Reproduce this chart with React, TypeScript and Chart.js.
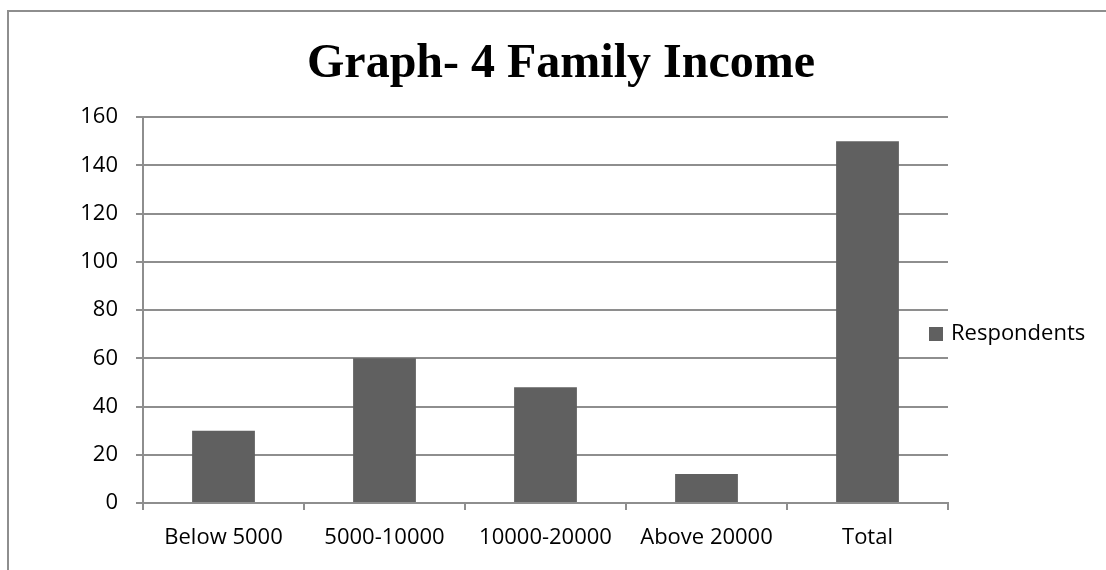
import { useEffect, useRef } from "react";
import { Chart, registerables } from "chart.js";

Chart.register(...registerables);

const titleText = "Graph- 4 Family Income";
const categories = ["Below 5000", "5000-10000", "10000-20000", "Above 20000", "Total"];
const seriesLabel = "Respondents";
const respondents = [30, 60, 48, 12, 150];
const yMin = 0;
const yMax = 160;
const yStep = 20;

const GRID = "#8e8e8e";
const BAR = "#606060";
const FONT = "'Open Sans', 'Noto Sans', sans-serif";

export default function App() {
  const ref = useRef<HTMLCanvasElement>(null);

  useEffect(() => {
    const canvas = ref.current;
    if (!canvas) return;

    const framePlugin = {
      id: "frame",
      beforeDraw(chart: any) {
        const c = chart.ctx;
        c.save();
        c.fillStyle = "#ffffff";
        c.fillRect(0, 0, chart.width, chart.height);
        c.strokeStyle = GRID;
        c.lineWidth = 2;
        c.strokeRect(8, 11, 1400, 900);
        c.restore();
      },
    };

    const titlePlugin = {
      id: "customTitle",
      afterDraw(chart: any) {
        const c = chart.ctx;
        c.save();
        c.font = "bold 48px 'Liberation Serif', 'Times New Roman', serif";
        c.fillStyle = "#000";
        c.textAlign = "center";
        c.textBaseline = "alphabetic";
        c.fillText(titleText, 561, 77);
        c.restore();
      },
    };

    const legendPlugin = {
      id: "customLegend",
      afterDraw(chart: any) {
        const c = chart.ctx;
        const ds = chart.data.datasets[0];
        c.save();
        c.fillStyle = ds.backgroundColor;
        c.fillRect(929, 327, 14, 14);
        c.font = "22px " + FONT;
        c.fillStyle = "#000";
        c.textAlign = "left";
        c.textBaseline = "middle";
        c.fillText(ds.label, 951, 334);
        c.restore();
      },
    };

    const chart = new Chart(canvas, {
      type: "bar",
      data: {
        labels: categories,
        datasets: [
          {
            label: seriesLabel,
            data: respondents,
            backgroundColor: BAR,
            categoryPercentage: 1,
            barPercentage: 0.39,
          },
        ],
      },
      options: {
        responsive: false,
        animation: false,
        layout: { padding: { left: 0, right: 158, top: 117, bottom: 0 } },
        plugins: {
          legend: { display: false },
          title: { display: false },
          tooltip: { enabled: false },
        },
        scales: {
          x: {
            grid: {
              display: true,
              drawOnChartArea: false,
              drawTicks: true,
              tickLength: 7,
              color: GRID,
              lineWidth: 2,
              offset: true,
            },
            border: { display: true, color: GRID, width: 2 },
            ticks: {
              color: "#000",
              font: { family: FONT, size: 22 },
              padding: 15,
              maxRotation: 0,
              autoSkip: false,
            },
            afterFit(s: any) {
              s.height = 67;
            },
          },
          y: {
            min: yMin,
            max: yMax,
            ticks: {
              stepSize: yStep,
              color: "#000",
              font: { family: FONT, size: 22 },
              padding: 18,
            },
            grid: { color: GRID, lineWidth: 2, tickLength: 7, drawTicks: true },
            border: { display: true, color: GRID, width: 2 },
            afterFit(s: any) {
              s.width = 143;
            },
          },
        },
      },
      plugins: [framePlugin, titlePlugin, legendPlugin],
    });

    return () => chart.destroy();
  }, []);

  return (
    <div style={{ position: "fixed", left: 0, top: 0, width: 1106, height: 570, background: "#fff" }}>
      <canvas ref={ref} width={1106} height={570} style={{ display: "block", width: 1106, height: 570 }} />
    </div>
  );
}
